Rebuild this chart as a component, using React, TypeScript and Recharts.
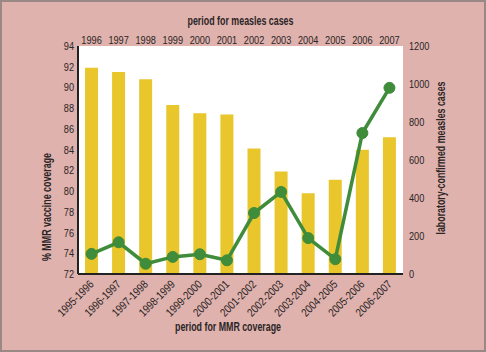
import React from "react";
import {
  Bar,
  ComposedChart,
  Line,
  XAxis,
  YAxis
} from "recharts";

const periods = [
  "1995-1996", "1996-1997", "1997-1998", "1998-1999", "1999-2000", "2000-2001",
  "2001-2002", "2002-2003", "2003-2004", "2004-2005", "2005-2006", "2006-2007"
];
const years = [
  "1996", "1997", "1998", "1999", "2000", "2001",
  "2002", "2003", "2004", "2005", "2006", "2007"
];
const coverage = [91.9, 91.5, 90.8, 88.3, 87.5, 87.4, 84.1, 81.9, 79.8, 81.1, 84.0, 85.2];
const cases = [106, 167, 54, 90, 104, 72, 321, 432, 189, 78, 742, 980];

const leftTicks = [72, 74, 76, 78, 80, 82, 84, 86, 88, 90, 92, 94];
const rightTicks = [0, 200, 400, 600, 800, 1000, 1200];

const data = periods.map((period, i) => ({
  period,
  year: years[i],
  coverage: coverage[i],
  cases: cases[i]
}));

const W = 486;
const H = 352;
const margin = { top: 26, right: 7, left: 16, bottom: 16 };
const LEFT_W = 62;
const RIGHT_W = 76;
const TOP_H = 20;
const BOTTOM_H = 62;

const FONT = "'Liberation Sans', Arial, sans-serif";
const TEXT = "#2b2526";
const TICK_SIZE = 11.5;

// rough natural glyph width, so text can be squeezed like the condensed original
const naturalWidth = (s: string, size: number) =>
  s.split("").reduce((w, c) => w + (c === "-" ? 0.333 : 0.556), 0) * size;

const NarrowText = ({ x, y, value, length, angle = 0, anchor = "middle", size = TICK_SIZE, bold = false }: any) => (
  <text
    x={x}
    y={y}
    textLength={length}
    lengthAdjust="spacingAndGlyphs"
    textAnchor={anchor}
    transform={angle ? `rotate(${angle}, ${x}, ${y})` : undefined}
    fontSize={size}
    fontWeight={bold ? "bold" : "normal"}
    fontFamily={FONT}
    fill={TEXT}
  >
    {value}
  </text>
);

const squeeze = (s: string) => naturalWidth(s, TICK_SIZE) * 0.8;

const BottomTick = ({ x, y, payload }: any) => (
  <NarrowText x={x + 3} y={y + 9} value={payload.value} length={naturalWidth(payload.value, TICK_SIZE) * 0.83} angle={-45} anchor="end" />
);

const TopTick = ({ x, y, payload }: any) => (
  <NarrowText x={x} y={y - 2} value={payload.value} length={squeeze(payload.value)} />
);

const LeftTick = ({ x, y, payload }: any) => (
  <NarrowText x={x} y={y + 4} value={String(payload.value)} length={squeeze(String(payload.value))} anchor="end" />
);

const RightTick = ({ x, y, payload }: any) => (
  <NarrowText x={x} y={y + 4} value={String(payload.value)} length={squeeze(String(payload.value))} anchor="start" />
);

const PLOT_W = W - margin.left - LEFT_W - margin.right - RIGHT_W;
const PLOT_H = H - margin.top - TOP_H - margin.bottom - BOTTOM_H;

const App = () => {
  return (
    <div
      style={{
        position: "fixed",
        top: 0,
        left: 0,
        width: W,
        height: H,
        backgroundColor: "#dfb2ad",
        boxShadow: "inset 0 0 0 2px #9a8886"
      }}
    >
      <svg width={W} height={H} style={{ position: "absolute", left: 0, top: 0, zIndex: 0 }}>
        {/* white plotting area */}
        <rect
          x={margin.left + LEFT_W}
          y={margin.top + TOP_H}
          width={PLOT_W}
          height={PLOT_H}
          style={{ fill: "rgb(255, 255, 255)" }}
        />
      </svg>
      <div style={{ position: "absolute", left: 0, top: 0, zIndex: 1 }}>
        <ComposedChart width={W} height={H} data={data} margin={margin}>
          <XAxis
            xAxisId="bottom"
            dataKey="period"
            height={BOTTOM_H}
            interval={0}
            tickLine={false}
            tickSize={0}
            axisLine={{ stroke: "#222", strokeWidth: 2 }}
            tick={<BottomTick />}
            label={{
              content: ({ viewBox }: any) => (
                <NarrowText x={228} y={viewBox.y + 57} value="period for MMR coverage" length={106} size={12} bold />
              )
            }}
          />
          <XAxis
            xAxisId="top"
            dataKey="year"
            orientation="top"
            height={TOP_H}
            interval={0}
            tickLine={false}
            tickSize={0}
            tickMargin={0}
            axisLine={false}
            tick={<TopTick />}
            label={{
              content: ({ viewBox }: any) => (
                <NarrowText x={viewBox.x + viewBox.width / 2} y={viewBox.y - 1} value="period for measles cases" length={106} size={12} bold />
              )
            }}
          />
          <YAxis
            yAxisId="left"
            width={LEFT_W}
            domain={[72, 94]}
            ticks={leftTicks}
            interval={0}
            tickLine={false}
            tickSize={0}
            tickMargin={4}
            axisLine={{ stroke: "#222", strokeWidth: 2 }}
            tick={<LeftTick />}
            label={{
              content: ({ viewBox }: any) => (
                <NarrowText x={51} y={viewBox.y + viewBox.height / 2 + 47} value="% MMR vaccine coverage" length={108} size={12} bold angle={-90} />
              )
            }}
          />
          <YAxis
            yAxisId="right"
            orientation="right"
            width={RIGHT_W}
            domain={[0, 1200]}
            ticks={rightTicks}
            interval={0}
            tickLine={false}
            tickSize={0}
            tickMargin={6}
            axisLine={false}
            tick={<RightTick />}
            label={{
              content: ({ viewBox }: any) => (
                <NarrowText x={445} y={viewBox.y + viewBox.height / 2 - 2} value="laboratory-confirmed measles cases" length={153} size={12} bold angle={-90} />
              )
            }}
          />
          <Bar
            xAxisId="bottom"
            yAxisId="left"
            dataKey="coverage"
            fill="#e8c62c"
            barSize={13}
            isAnimationActive={false}
          />
          <Line
            xAxisId="bottom"
            yAxisId="right"
            dataKey="cases"
            type="linear"
            stroke="#3f8c3b"
            strokeWidth={3.5}
            dot={{ r: 5.5, fill: "#3f8c3b", stroke: "#3f8c3b", strokeWidth: 1 }}
            isAnimationActive={false}
          />
        </ComposedChart>
      </div>
    </div>
  );
};

export default App;
